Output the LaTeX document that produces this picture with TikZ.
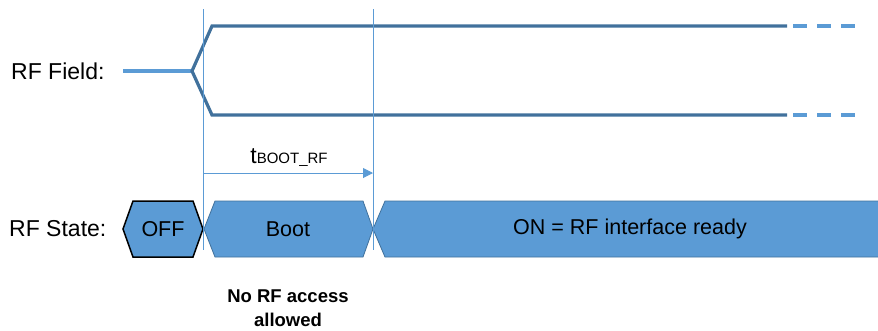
\documentclass[tikz,border=0pt]{standalone}
\usepackage{fontspec}
\setmainfont{Liberation Sans}
\usetikzlibrary{arrows.meta}
\definecolor{lblue}{HTML}{5B9BD5}
\definecolor{dblue}{HTML}{41719C}
\tikzset{
  lbl/.style={font=\fontsize{23}{27}\selectfont, inner sep=0pt},
  statetxt/.style={font=\fontsize{21.5}{25}\selectfont, inner sep=0pt},
  fieldline/.style={draw=dblue, line width=3.2pt, line join=miter},
  inline/.style={draw=lblue, line width=3.2pt},
  dashline/.style={draw=lblue, line width=3.2pt, dash pattern=on 14pt off 10pt},
  marker/.style={draw=lblue, line width=1pt},
  hexfill/.style={fill=lblue},
}
\begin{document}
\begin{tikzpicture}[x=1pt,y=-1pt]
\useasboundingbox (0,0) rectangle (878,330);
% labels
\node[lbl, anchor=west] (fieldlbl) at (11,71) {RF Field:};
\node[lbl, anchor=west] (statelbl) at (9,229) {RF State:};
% RF field
\coordinate (in0) at (123,71);
\coordinate (fork) at (192,71);
\coordinate (up1) at (212,26);
\coordinate (dn1) at (212,115);
\coordinate (up2) at (787,26);
\coordinate (dn2) at (787,115);
\coordinate (up3) at (856,26);
\coordinate (dn3) at (856,115);
\draw[inline] (in0) -- (fork);
\draw[fieldline] (up2) -- (up1) -- (fork) -- (dn1) -- (dn2);
\draw[dashline] (793,26) -- (up3);
\draw[dashline] (793,115) -- (dn3);
% states
\path[hexfill, draw=black, line width=1.5pt, line join=miter]
  (123,229) -- (133,201) -- (193,201) -- (203,229) -- (193,257) -- (133,257) -- cycle;
\node[statetxt] (off) at (163,229) {OFF};
\path[hexfill, draw=dblue, line width=0.8pt]
  (204,229) -- (215,201) -- (363,201) -- (373,229) -- (363,257) -- (215,257) -- cycle;
\node[statetxt] (boot) at (288,229) {Boot};
\path[hexfill, draw=dblue, line width=0.8pt]
  (373,229) -- (385,201) -- (879,201) -- (879,257) -- (385,257) -- cycle;
\node[statetxt] (on) at (630,229) {ON = RF interface ready};
% markers
\coordinate (m1t) at (203,9);
\coordinate (m1b) at (203,250);
\coordinate (m2t) at (373,9);
\coordinate (m2b) at (373,250);
\draw[marker] (m1t) -- (m1b);
\draw[marker] (m2t) -- (m2b);
\coordinate (a1) at (203,173);
\coordinate (a2) at (373,173);
\draw[marker, -{Triangle[length=10pt,width=10pt]}] (a1) -- (a2);
\node[inner sep=0pt, anchor=base] (tboot) at (289,163)
  {\fontsize{23}{27}\selectfont t\fontsize{15}{18}\selectfont BOOT\_RF};
\node[inner sep=0pt, align=center, font=\fontsize{18.5}{24}\selectfont\bfseries] (noacc) at (288,308)
  {No RF access\\allowed};
\end{tikzpicture}
\end{document}
